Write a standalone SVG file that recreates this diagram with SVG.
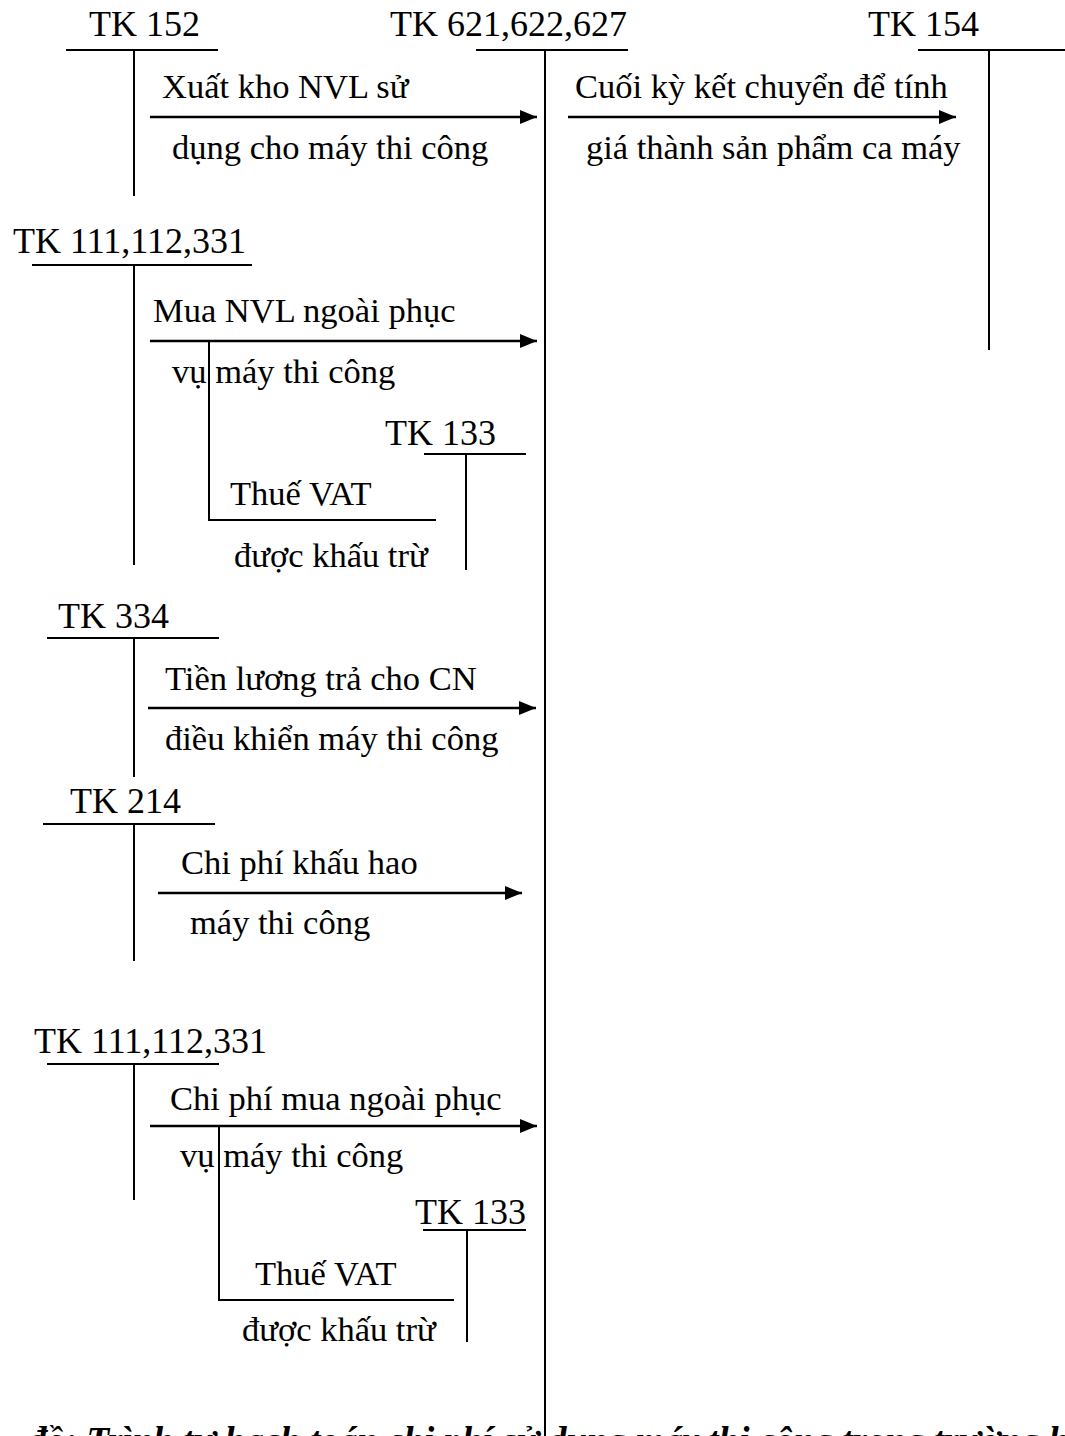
<svg xmlns="http://www.w3.org/2000/svg" width="1065" height="1436" viewBox="0 0 1065 1436">
  <style>
    .acct { font-family: "Liberation Serif", "Times New Roman", serif; font-size: 36px; fill: #000; }
    .lbl { font-family: "Liberation Serif", "Times New Roman", serif; font-size: 34.5px; fill: #000; }
    .cap { font-family: "Liberation Serif", "Times New Roman", serif; font-size: 37px; font-weight: bold; font-style: italic; fill: #000; }
    .ln { stroke: #000; stroke-width: 2; fill: none; }
    .arr { stroke: #000; stroke-width: 2.4; fill: none; marker-end: url(#head); }
  </style>
  <defs>
    <marker id="head" markerWidth="18" markerHeight="14" refX="17" refY="7" orient="auto" markerUnits="userSpaceOnUse">
      <path d="M0,0 L17,7 L0,14 Z" fill="#000"/>
    </marker>
  </defs>
  <rect width="1065" height="1436" fill="#fff"/>

  <!-- T-accounts -->
  <g id="tk152">
    <text class="acct" x="89" y="36">TK 152</text>
    <line class="ln" x1="66" y1="50" x2="218" y2="50"/>
    <line class="ln" x1="134" y1="50" x2="134" y2="196"/>
  </g>
  <g id="tk621">
    <text class="acct" x="390" y="36">TK 621,622,627</text>
    <line class="ln" x1="476" y1="50" x2="628" y2="50"/>
    <line class="ln" x1="545" y1="50" x2="545" y2="1436"/>
  </g>
  <g id="tk154">
    <text class="acct" x="868" y="36">TK 154</text>
    <line class="ln" x1="918" y1="50" x2="1065" y2="50"/>
    <line class="ln" x1="989" y1="50" x2="989" y2="350"/>
  </g>
  <g id="tk111a">
    <text class="acct" x="13" y="253">TK 111,112,331</text>
    <line class="ln" x1="32" y1="265" x2="252" y2="265"/>
    <line class="ln" x1="134" y1="265" x2="134" y2="565"/>
  </g>
  <g id="tk133a">
    <text class="acct" x="385" y="445">TK 133</text>
    <line class="ln" x1="424" y1="454" x2="526" y2="454"/>
    <line class="ln" x1="466" y1="454" x2="466" y2="570"/>
  </g>
  <g id="tk334">
    <text class="acct" x="58" y="628">TK 334</text>
    <line class="ln" x1="47" y1="638" x2="219" y2="638"/>
    <line class="ln" x1="134" y1="638" x2="134" y2="777"/>
  </g>
  <g id="tk214">
    <text class="acct" x="70" y="813">TK 214</text>
    <line class="ln" x1="43" y1="824" x2="215" y2="824"/>
    <line class="ln" x1="134" y1="824" x2="134" y2="961"/>
  </g>
  <g id="tk111b">
    <text class="acct" x="34" y="1053">TK 111,112,331</text>
    <line class="ln" x1="47" y1="1064" x2="219" y2="1064"/>
    <line class="ln" x1="134" y1="1064" x2="134" y2="1200"/>
  </g>
  <g id="tk133b">
    <text class="acct" x="415" y="1224">TK 133</text>
    <line class="ln" x1="423" y1="1230" x2="526" y2="1230"/>
    <line class="ln" x1="467" y1="1230" x2="467" y2="1342"/>
  </g>

  <!-- Postings between accounts -->
  <g id="connectors">
    <line class="arr" x1="150" y1="117" x2="537" y2="117"/>
    <text class="lbl" x="162" y="98">Xuất kho NVL sử</text>
    <text class="lbl" x="172" y="159">dụng cho máy thi công</text>

    <line class="arr" x1="568" y1="117" x2="956" y2="117"/>
    <text class="lbl" x="575" y="98">Cuối kỳ kết chuyển để tính</text>
    <text class="lbl" x="586" y="159">giá thành sản phẩm ca máy</text>

    <line class="arr" x1="150" y1="341" x2="537" y2="341"/>
    <text class="lbl" x="153" y="322">Mua NVL ngoài phục</text>
    <text class="lbl" x="172" y="383">vụ máy thi công</text>
    <polyline class="ln" points="209,341 209,520 436,520"/>
    <text class="lbl" x="230" y="505">Thuế VAT</text>
    <text class="lbl" x="234" y="567">được khấu trừ</text>

    <line class="arr" x1="148" y1="708" x2="536" y2="708"/>
    <text class="lbl" x="165" y="690">Tiền lương trả cho CN</text>
    <text class="lbl" x="165" y="750">điều khiển máy thi công</text>

    <line class="arr" x1="158" y1="893" x2="522" y2="893"/>
    <text class="lbl" x="181" y="874">Chi phí khấu hao</text>
    <text class="lbl" x="190" y="934">máy thi công</text>

    <line class="arr" x1="150" y1="1126" x2="537" y2="1126"/>
    <text class="lbl" x="170" y="1110">Chi phí mua ngoài phục</text>
    <text class="lbl" x="180" y="1167">vụ máy thi công</text>
    <polyline class="ln" points="219,1126 219,1300 454,1300"/>
    <text class="lbl" x="255" y="1285">Thuế VAT</text>
    <text class="lbl" x="242" y="1341">được khấu trừ</text>
  </g>

  <!-- Caption (runs past the lower edge of the sheet) -->
  <text class="cap" x="28" y="1453">đồ: Trình tự hạch toán chi phí sử dụng máy thi công trong trường hợp</text>
</svg>
